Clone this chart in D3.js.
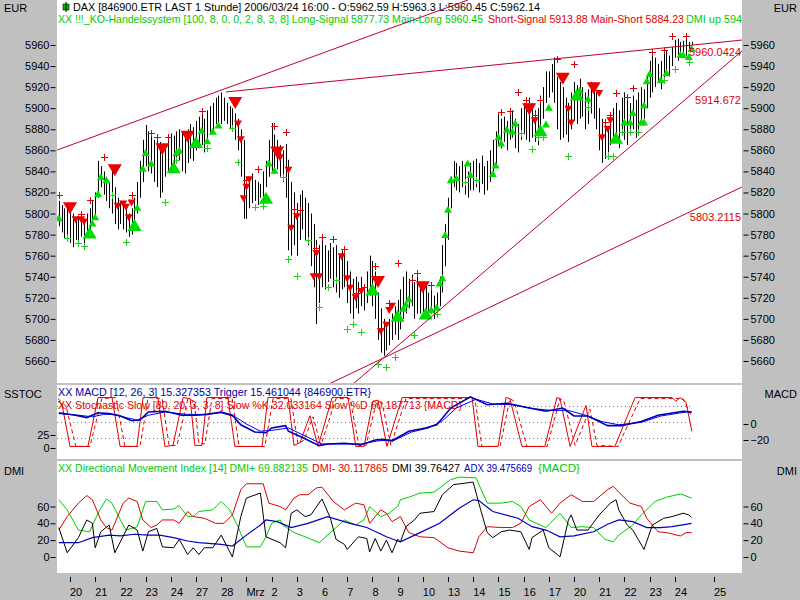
<!DOCTYPE html>
<html>
<head>
<meta charset="utf-8">
<script src="https://cdn.jsdelivr.net/npm/d3@7"></script>
<style>
  body { margin: 0; background: #c0c0c0; }
  svg { display: block; font-family: Arial, "Liberation Sans", sans-serif; }
</style>
</head>
<body>
<svg id="chart" width="800" height="600"></svg>
<script>
// bar index 0 = first hourly bar of Feb 20, 9 bars per trading day
const barStart = -4;
const barHigh = [
  5812,5808,5805,5810,
  5806,5800,5795,5798,5792,5790,5800,5805,5812,
  5820,5850,5845,5840,5835,5830,5843,5825,5815,
  5812,5810,5808,5800,5805,5815,5830,5850,5870,
  5884,5878,5875,5870,5872,5868,5860,5865,5872,
  5876,5874,5878,5880,5878,5872,5880,5885,5882,
  5888,5892,5895,5890,5898,5902,5905,5910,5912,
  5915,5910,5905,5902,5900,5895,5890,5880,5870,
  5830,5835,5838,5832,5830,5828,5840,5850,5870,
  5886,5875,5870,5865,5860,5866,5851,5830,5820,
  5810,5818,5822,5815,5810,5800,5790,5775,5770,
  5775,5770,5765,5772,5768,5770,5760,5765,5762,
  5755,5745,5738,5740,5735,5740,5730,5745,5760,
  5755,5745,5725,5710,5700,5695,5700,5705,5712,
  5718,5728,5740,5745,5738,5742,5735,5740,5730,
  5735,5732,5725,5728,5722,5725,5740,5770,5790,
  5815,5835,5850,5848,5845,5850,5845,5840,5848,
  5850,5852,5848,5855,5845,5850,5860,5870,5878,
  5895,5890,5892,5888,5895,5898,5890,5885,5900,
  5905,5900,5910,5905,5898,5900,5912,5920,5935,
  5935,5942,5948,5930,5925,5920,5910,5905,5915,
  5925,5922,5928,5920,5915,5918,5925,5920,5915,
  5900,5890,5885,5880,5895,5900,5905,5898,5910,
  5915,5910,5905,5912,5908,5915,5920,5918,5930,
  5945,5950,5948,5942,5945,5952,5955,5950,5958,
  5965,5966,5963,5964,5966,5963,5963
];
const barLow = [
  5788,5782,5776,5780,
  5772,5768,5775,5770,5778,5772,5780,5785,5790,
  5795,5815,5825,5818,5812,5805,5800,5790,5785,
  5790,5785,5782,5778,5780,5788,5800,5815,5830,
  5845,5840,5838,5830,5825,5815,5820,5835,5840,
  5845,5842,5848,5850,5840,5838,5848,5852,5850,
  5860,5862,5865,5858,5868,5875,5878,5885,5882,
  5885,5888,5885,5880,5878,5870,5860,5835,5795,
  5795,5805,5810,5812,5808,5815,5815,5825,5835,
  5840,5838,5842,5835,5830,5815,5765,5760,5770,
  5760,5775,5785,5775,5770,5750,5730,5695,5715,
  5730,5728,5735,5738,5730,5725,5720,5728,5730,
  5715,5705,5700,5710,5705,5712,5708,5715,5722,
  5712,5700,5680,5668,5665,5670,5675,5680,5685,
  5680,5690,5700,5705,5710,5712,5700,5705,5705,
  5705,5702,5700,5705,5700,5710,5712,5725,5750,
  5775,5805,5825,5822,5820,5825,5818,5815,5822,
  5822,5825,5820,5828,5818,5822,5830,5840,5845,
  5865,5862,5868,5860,5870,5872,5862,5858,5870,
  5875,5870,5868,5872,5868,5865,5880,5890,5905,
  5910,5915,5905,5880,5870,5872,5875,5868,5880,
  5888,5885,5890,5892,5880,5885,5895,5890,5880,
  5860,5848,5852,5858,5865,5870,5868,5862,5875,
  5870,5865,5875,5880,5872,5878,5885,5890,5900,
  5910,5915,5920,5925,5918,5928,5935,5930,5940,
  5948,5945,5950,5952,5950,5955,5960
];

// trading signals: [bar index, price]
const sellBig = [[0,5805],[16,5841],[33,5861],[42,5873],[59,5905],[74,5858],[110,5735],[126,5730],[164,5899],[176,5928],[187,5919]];
const sellSmall = [[2,5794],[4,5794],[5,5792],[17,5807],[19,5809],[20,5806],[21,5796],[22,5810],[60,5885],[61,5870],[62,5814],[63,5825],[64,5832],
  [75,5853],[78,5841],[79,5786],[81,5797],[87,5740],[88,5762],[89,5740],[97,5759],[99,5738],[100,5729],[102,5720],[104,5726],
  [111,5688],[113,5694],[114,5708],[115,5712],[166,5888],[178,5899],[179,5886],[189,5914],[190,5872],[192,5880],[193,5888]];
const buyBig = [[7,5782],[23,5789],[37,5844],[45,5868],[70,5815],[108,5728],[117,5703],[127,5705],[168,5879],[181,5913],[195,5872]];
const buySmall = [[-4,5796],[8,5791],[9,5797],[10,5819],[11,5835],[13,5832],[24,5806],[26,5843],[27,5858],[29,5848],[38,5858],[39,5860],
  [47,5879],[49,5869],[51,5878],[53,5884],[71,5848],[73,5841],[119,5710],[120,5714],[121,5719],[129,5709],[131,5711],[132,5734],
  [133,5739],[134,5780],[135,5804],[136,5832],[138,5834],[142,5848],[143,5837],[151,5838],[152,5846],[153,5873],[154,5867],[156,5880],
  [158,5878],[159,5886],[170,5885],[171,5901],[182,5917],[185,5909],[198,5887],[200,5887],[201,5896],[204,5887],[205,5887],[205,5903],
  [206,5926],[207,5933],[211,5927],[213,5934],[218,5951],[219,5951],[221,5949],[222,5957]];
const plusRed = [[-4,5818],[4,5800],[7,5813],[12,5854],[22,5818],[29,5876],[31,5873],[35,5873],[47,5897],[63,5832],[67,5842],[73,5883],
  [77,5877],[80,5804],[82,5803],[88,5767],[90,5778],[94,5776],[98,5766],[102,5725],[105,5730],[109,5750],[114,5715],[117,5753],
  [122,5737],[124,5744],[129,5732],[154,5896],[157,5897],[160,5915],[163,5908],[166,5894],[168,5908],[174,5947],[180,5942],[191,5887],
  [193,5894],[195,5914],[199,5911],[201,5919],[208,5953],[212,5955],[215,5969],[220,5969]];
const plusGreen = [[-1,5777],[3,5772],[5,5769],[15,5818],[20,5773],[34,5811],[38,5851],[49,5862],[58,5881],[60,5849],[66,5806],[69,5807],
  [76,5835],[78,5757],[81,5741],[85,5775],[89,5711],[92,5730],[95,5737],[99,5690],[101,5695],[104,5688],[110,5657],[113,5654],[116,5664],
  [123,5685],[131,5705],[141,5830],[145,5832],[161,5876],[165,5861],[167,5873],[169,5873],[178,5855],[185,5901],[192,5855],[194,5855],
  [197,5877],[200,5877],[203,5877],[212,5927],[216,5937],[221,5944]];

// trend lines: [bar1, price1, bar2, price2]
const trendLines = [[-4.6,5860.3,142.1,6002.7],[55.7,5915.4,240,5964.7],[101.1,5638.2,240,5954.3],[92.5,5638.2,240,5825.2]];
const trendValues = [5960.0424, 5914.672, 5803.2115];

// MACD panel
const macd = [[-4,14],[2,11],[6,8],[10,14],[14,13],[18,10],[22,4],[25,5],[28,15],[34,16],[40,11],[45,11],[49,12],[54,15],[58,11],[61,-1],
  [66,-10],[70,-11],[72,-5],[77,-2],[78,-9],[83,-17],[89,-27],[92,-25],[98,-24],[104,-26],[109,-20],[112,-19],[115,-21],[121,-9],[127,-5],
  [131,-1],[136,20],[143,34],[149,24],[156,26],[164,20],[170,16],[176,20],[180,10],[185,10],[192,-2],[197,-2],[204,3],[210,11],[219,16],[222,15]];
const trigger = [[-4,13],[3,11],[8,9],[12,12],[16,12],[20,8],[24,5],[28,11],[34,15],[42,12],[48,12],[54,14],[59,9],[63,0],[68,-9],[72,-8],
  [78,-5],[84,-15],[90,-25],[96,-25],[104,-25],[110,-21],[116,-20],[122,-10],[128,-5],[133,4],[138,20],[145,31],[151,25],[158,24],[166,19],
  [172,17],[178,17],[184,11],[190,3],[196,-1],[204,2],[211,10],[220,15],[222,15]];
const slowK = [[-4.3,90],[-2.9,85],[0,3],[6.4,3],[10,97],[15,97],[17.9,3],[23.9,3],[26.1,97],[31.4,97],[33.9,3],[36.8,5],[40.4,97],[42.9,95],
  [44.6,5],[47.1,5],[48.9,97],[56.4,97],[58.9,3],[68.6,3],[70.7,97],[77.9,97],[80,5],[82.1,10],[85.7,62],[88.6,3],[93.6,97],[99.3,97],
  [102.1,3],[105,3],[108.2,90],[110,92],[113.2,3],[118.6,97],[143.6,97],[145.7,3],[152.9,3],[155.7,97],[157.1,95],[161.4,3],[169.6,3],
  [173.9,97],[175,95],[178.6,3],[184.3,82],[186.4,3],[194.6,3],[201.8,97],[215,97],[216.4,90],[217.9,97],[220,88],[222.1,32]];
const slowD = [[-4.3,95],[-1.4,80],[2.1,3],[7.1,3],[11.4,95],[16.4,97],[19.6,3],[25,3],[27.9,97],[32.9,95],[35.4,5],[38.2,5],[42.1,95],
  [44.3,90],[46.1,8],[48.2,8],[50.7,95],[57.9,95],[60.4,3],[69.6,3],[72.5,95],[78.9,95],[81.4,8],[83.6,15],[86.8,60],[89.6,5],[95,95],
  [100,95],[103.2,5],[105.7,5],[109.3,85],[111.4,88],[114.6,5],[120,95],[144.6,95],[147.1,3],[153.6,3],[157.1,95],[158.6,90],[163.2,3],
  [170.4,3],[175,95],[176.4,90],[180.4,5],[185.7,75],[188.2,5],[195.7,3],[203.6,95],[216.1,95],[218.9,95],[222.1,60]];

// DMI panel
const dmiPlus = [[-4,68],[-1,56],[3,32],[7,30],[10,52],[13,69],[15,64],[18,44],[20,32],[24,36],[27,66],[31,66],[33,56],[37,57],[39,61],
  [42,48],[44,48],[46,54],[51,56],[54,66],[57,56],[60,36],[63,12],[68,12],[70,24],[72,40],[75,44],[76,38],[80,29],[84,24],[89,17],[94,32],
  [98,44],[102,38],[105,44],[107,60],[111,48],[114,52],[117,60],[118,68],[121,71],[125,76],[130,77],[136,92],[139,95],[145,94],[149,64],
  [154,64],[158,66],[161,60],[164,44],[170,35],[175,52],[179,35],[183,36],[187,35],[191,21],[194,18],[196,26],[201,38],[204,50],[209,66],
  [213,71],[218,75],[222,70]];
const dmiMinus = [[-4,32],[-1,48],[3,64],[6,73],[8,68],[11,44],[13,35],[15,32],[19,64],[21,70],[24,66],[26,44],[29,35],[31,38],[33,44],
  [37,44],[39,40],[42,54],[44,48],[48,46],[52,40],[55,40],[58,50],[61,80],[63,87],[69,87],[71,64],[75,60],[77,56],[80,70],[82,74],[85,74],
  [88,82],[90,83],[94,66],[98,56],[102,64],[105,62],[107,40],[111,56],[113,52],[115,42],[118,48],[121,29],[125,24],[130,23],[135,11],
  [139,7],[144,5],[146,24],[149,36],[154,35],[158,35],[161,40],[164,60],[168,68],[172,52],[175,64],[179,74],[183,66],[187,66],[192,80],
  [194,84],[196,77],[200,64],[204,60],[206,46],[210,30],[213,29],[218,25],[220,29],[222,29]];
const dmiDx = [[-4,35],[-1,5],[3,23],[6,44],[8,40],[9,11],[11,30],[14,38],[16,5],[21,38],[24,32],[26,7],[28,30],[31,34],[33,12],[37,11],
  [39,21],[42,3],[44,11],[46,3],[48,11],[51,11],[54,26],[58,0],[61,48],[63,70],[68,76],[70,24],[75,17],[77,11],[79,52],[81,56],[84,48],
  [86,50],[90,69],[93,46],[95,21],[98,15],[99,9],[103,24],[106,22],[107,6],[109,22],[111,7],[113,20],[115,5],[117,21],[118,18],[120,36],
  [123,44],[125,52],[130,54],[133,74],[137,86],[144,89],[146,64],[149,29],[151,23],[154,30],[157,32],[161,30],[164,9],[165,23],[169,32],
  [171,11],[174,3],[175,0],[178,44],[179,50],[181,32],[185,32],[189,50],[193,64],[195,68],[196,56],[199,38],[201,32],[205,9],[208,38],
  [212,46],[215,48],[219,52],[221,50],[222,47]];
const adx = [[-4,17],[3,17],[8,23],[14,26],[18,25],[23,27],[28,26],[32,26],[37,23],[42,19],[46,17],[54,15],[58,13],[63,26],[68,38],[70,44],
  [74,42],[79,35],[85,40],[92,48],[100,40],[106,35],[113,24],[117,19],[118,18],[125,29],[132,40],[139,58],[144,68],[146,67],[151,54],
  [160,46],[165,36],[170,32],[175,24],[180,25],[187,30],[192,39],[196,44],[201,42],[206,35],[211,35],[215,36],[222,40]];

// x axis: bar index of each day start and its label
const dayTicks = [0,9,18,27,36,45,54,63,72,81,90,99,108,117,126,135,144,153,162,171,180,189,198,207,216,230];
const dayLabels = ["20","21","22","23","24","27","28","Mrz","2","3","6","7","8","9","10","13","14","15","16","17","20","21","22","23","24","25"];
const priceTicks = d3.range(5660, 5961, 20);

const RED = '#e00000', GREEN = '#00cc00', BLUE = '#0000b0', TREND = '#c0002a';

const svg = d3.select('#chart');
const x = d3.scaleLinear().domain([0, 240]).range([70, 742]);
const yP = d3.scaleLinear().domain([5660, 5960]).range([361, 45]);
const yS = d3.scaleLinear().domain([0, 100]).range([448, 396]);
const yM = d3.scaleLinear().domain([-20, 0]).range([440, 424]);
const yD = d3.scaleLinear().domain([0, 60]).range([557, 506.5]);

svg.append('rect').attr('width', 800).attr('height', 600).attr('fill', '#c0c0c0');

const panels = [['pPrice', 0, 383], ['pStoch', 385, 459], ['pDmi', 461, 573]];
const defs = svg.append('defs');
panels.forEach(([id, top, bottom]) => {
  svg.append('rect').attr('x', 57).attr('y', top).attr('width', 685).attr('height', bottom - top).attr('fill', '#fff');
  defs.append('clipPath').attr('id', id).append('rect')
    .attr('x', 57).attr('y', top).attr('width', 685).attr('height', bottom - top);
});
const gP = svg.append('g').attr('clip-path', 'url(#pPrice)');
const gS = svg.append('g').attr('clip-path', 'url(#pStoch)');
const gD = svg.append('g').attr('clip-path', 'url(#pDmi)');

function label(g, x0, y0, text, fill, width, anchor) {
  const t = g.append('text').attr('x', x0).attr('y', y0).attr('fill', fill)
    .attr('font-size', 11).attr('text-anchor', anchor || 'start').text(text);
  if (width) t.attr('textLength', width).attr('lengthAdjust', 'spacingAndGlyphs');
  return t;
}

// panel titles (drawn first, the plot lines run over them)
gP.append('rect').attr('x', 63).attr('y', 4).attr('width', 6).attr('height', 6).attr('fill', '#00c000').attr('stroke', '#000').attr('stroke-width', 0.6);
gP.append('line').attr('x1', 66).attr('x2', 66).attr('y1', 2).attr('y2', 12).attr('stroke', '#000');
label(gP, 73, 11, 'DAX [846900.ETR LAST 1 Stunde] 2006/03/24 16:00 - O:5962.59 H:5963.3 L:5960.45 C:5962.14', '#000', 467);
label(gP, 58, 23, 'XX !!!_KO-Handelssystem [100, 8, 0, 0, 2, 8, 3, 8] Long-Signal 5877.73 Main-Long 5960.45', GREEN, 425);
label(gP, 488, 23, 'Short-Signal 5913.88 Main-Short 5884.23', RED, 196);
label(gP, 686, 23, 'DMI up 594', GREEN, 56);
label(gS, 58, 396, 'XX MACD [12, 26, 3] 15.327353 Trigger 15.461044 {846900.ETR}', '#0000a0', 313);
label(gS, 58, 409, 'XX Stochastic Slow [80, 20, 3, 3, 8] Slow %K 32.033164 Slow %D 60.187713 {MACD}', RED, 404);
label(gD, 58, 472, 'XX Directional Movement Index [14] DMI+ 69.882135', GREEN, 250);
label(gD, 312, 472, 'DMI- 30.117865', RED, 76);
label(gD, 392, 472, 'DMI 39.76427', '#000', 68);
label(gD, 464, 472, 'ADX 39.475669', '#0000c0', 68);
label(gD, 538, 472, '{MACD}', GREEN, 42);

// side captions
label(svg, 4, 12, 'EUR', '#000');
label(svg, 797, 12, 'EUR', '#000', null, 'end');
label(svg, 4, 398, 'SSTOC', '#000');
label(svg, 797, 398, 'MACD', '#000', null, 'end');
label(svg, 4, 475, 'DMI', '#000');
label(svg, 797, 475, 'DMI', '#000', null, 'end');

// y axes
function sideAxis(scale, ticks, side) {
  const ax = side === 'left' ? d3.axisLeft(scale).tickPadding(1) : d3.axisRight(scale).tickPadding(2);
  svg.append('g')
    .attr('transform', `translate(${side === 'left' ? 55.5 : 743.5},0)`)
    .call(ax.tickValues(ticks).tickSize(5).tickFormat(d3.format('d')))
    .call(g => g.select('.domain').remove())
    .call(g => g.selectAll('text').attr('font-size', 11).attr('font-family', 'Arial, "Liberation Sans", sans-serif').attr('fill', '#000'));
}
sideAxis(yP, priceTicks, 'left');
sideAxis(yP, priceTicks, 'right');
sideAxis(yS, [0, 25], 'left');
sideAxis(yM, [0, -20], 'right');
sideAxis(yD, [0, 20, 40, 60], 'left');
sideAxis(yD, [0, 20, 40, 60], 'right');

// x axis
const xa = svg.append('g');
xa.selectAll('line').data(dayTicks).join('line')
  .attr('x1', d => Math.round(x(d)) + 0.5).attr('x2', d => Math.round(x(d)) + 0.5)
  .attr('y1', 577).attr('y2', 582).attr('stroke', '#000');
xa.selectAll('text').data(dayTicks).join('text')
  .attr('x', d => x(d)).attr('y', 596).attr('font-size', 11).attr('fill', '#000')
  .text((d, i) => dayLabels[i]);

// price bars
gP.append('g').selectAll('line').data(barHigh).join('line')
  .attr('x1', (d, i) => Math.round(x(barStart + i)) + 0.5).attr('x2', (d, i) => Math.round(x(barStart + i)) + 0.5)
  .attr('y1', d => yP(d)).attr('y2', (d, i) => yP(barLow[i]))
  .attr('stroke', '#000').attr('stroke-width', 1);

// signals
function tri(d, w, h, down) {
  const cx = x(d[0]), cy = yP(d[1]);
  return down
    ? `M${cx - w / 2},${cy - h / 2}L${cx + w / 2},${cy - h / 2}L${cx},${cy + h / 2}Z`
    : `M${cx - w / 2},${cy + h / 2}L${cx + w / 2},${cy + h / 2}L${cx},${cy - h / 2}Z`;
}
const gm = gP.append('g');
gm.selectAll('.bb').data(buyBig).join('path').attr('d', d => tri(d, 14, 12, false)).attr('fill', '#00dd00');
gm.selectAll('.sb').data(buySmall).join('path').attr('d', d => tri(d, 8, 7, false)).attr('fill', '#00dd00');
gm.selectAll('.bs').data(sellBig).join('path').attr('d', d => tri(d, 14, 12, true)).attr('fill', '#ee0000');
gm.selectAll('.ss').data(sellSmall).join('path').attr('d', d => tri(d, 8, 7, true)).attr('fill', '#ee0000');
function plus(g, data, color) {
  g.append('g').selectAll('path').data(data).join('path')
    .attr('d', d => { const cx = Math.round(x(d[0])) + 0.5, cy = Math.round(yP(d[1])) + 0.5; return `M${cx - 3.5},${cy}H${cx + 3.5}M${cx},${cy - 3.5}V${cy + 3.5}`; })
    .attr('stroke', color).attr('stroke-width', 1);
}
plus(gP, plusRed, '#e00000');
plus(gP, plusGreen, '#22cc22');

// trend lines
gP.append('g').selectAll('line').data(trendLines).join('line')
  .attr('x1', d => x(d[0])).attr('y1', d => yP(d[1])).attr('x2', d => x(d[2])).attr('y2', d => yP(d[3]))
  .attr('stroke', TREND).attr('stroke-width', 1);
gP.append('g').selectAll('text').data(trendValues).join('text')
  .attr('x', 741).attr('y', d => yP(d) + 11).attr('text-anchor', 'end')
  .attr('font-size', 11).attr('fill', '#dd0000').text(d => d);

// stochastic / MACD panel
gS.append('g').selectAll('line').data([20, 50, 80]).join('line')
  .attr('x1', 57).attr('x2', x(222)).attr('y1', d => Math.round(yS(d)) + 0.5).attr('y2', d => Math.round(yS(d)) + 0.5)
  .attr('stroke', '#808080').attr('stroke-dasharray', '1,3');
function series(g, pts, yScale, color, width, dash) {
  g.append('path').datum(pts).attr('fill', 'none').attr('stroke', color)
    .attr('stroke-width', width).attr('stroke-dasharray', dash || null)
    .attr('d', d3.line().x(d => x(d[0])).y(d => yScale(d[1])));
}
series(gS, slowD, yS, RED, 1, '4,3');
series(gS, slowK, yS, RED, 1);
series(gS, trigger, yM, '#0000ff', 1);
series(gS, macd, yM, BLUE, 1.6);

// DMI panel
series(gD, dmiPlus, yD, '#00cc00', 1);
series(gD, dmiMinus, yD, '#dd0000', 1);
series(gD, adx, yD, '#0000c0', 1.2);
series(gD, dmiDx, yD, '#000', 1);
</script>
</body>
</html>
